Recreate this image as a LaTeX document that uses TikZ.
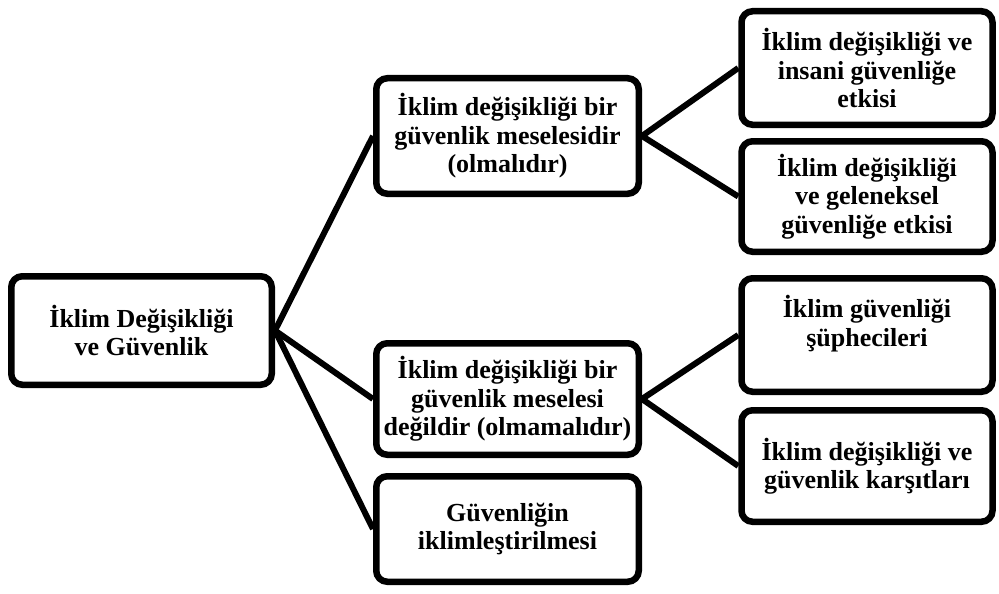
\documentclass[tikz,border=0pt]{standalone}
\usepackage{fontspec}
\setmainfont{Liberation Serif}
\begin{document}
\begin{tikzpicture}[x=1pt, y=-1pt,
    box/.style={draw, line width=6.5pt, rounded corners=11pt, fill=white,
        align=center, inner sep=0pt, font=\fontsize{26}{28.5}\selectfont\bfseries},
    link/.style={line width=6pt}]
\useasboundingbox (0,0) rectangle (999,594);

% Root box
\node[box, minimum width=260.5pt, minimum height=108.5pt] (root) at (141.5,330.5)
    {İklim Değişikliği\\ve Güvenlik};

% Middle column
\node[box, minimum width=262.5pt, minimum height=115.5pt] (yes) at (507.5,136)
    {İklim değişikliği bir\\güvenlik meselesidir\\(olmalıdır)};
\node[box, minimum width=262.5pt, minimum height=111.5pt] (no) at (507.5,399)
    {İklim değişikliği bir\\güvenlik meselesi\\değildir (olmamalıdır)};
\node[box, minimum width=262.5pt, minimum height=105.5pt] (climat) at (507.5,529)
    {Güvenliğin\\iklimleştirilmesi};

% Right column
\node[box, minimum width=251pt, minimum height=113.5pt] (human) at (867,68)
    {İklim değişikliği ve\\insani güvenliğe\\etkisi};
\node[box, minimum width=251pt, minimum height=110.5pt] (trad) at (867,196.5)
    {İklim değişikliği\\ve geleneksel\\güvenliğe etkisi};
\node[box, minimum width=251pt, minimum height=113.5pt] (skept) at (867,335)
    {İklim güvenliği\\şüphecileri\\\mbox{}};
\node[box, minimum width=251pt, minimum height=111.5pt] (oppos) at (867,466)
    {İklim değişikliği ve\\güvenlik karşıtları};

% Connectors
\foreach \a/\b in {root/yes, root/no, root/climat, yes/human, yes/trad, no/skept, no/oppos}
    \draw[link] (\a.east) -- (\b.west);
\end{tikzpicture}
\end{document}
